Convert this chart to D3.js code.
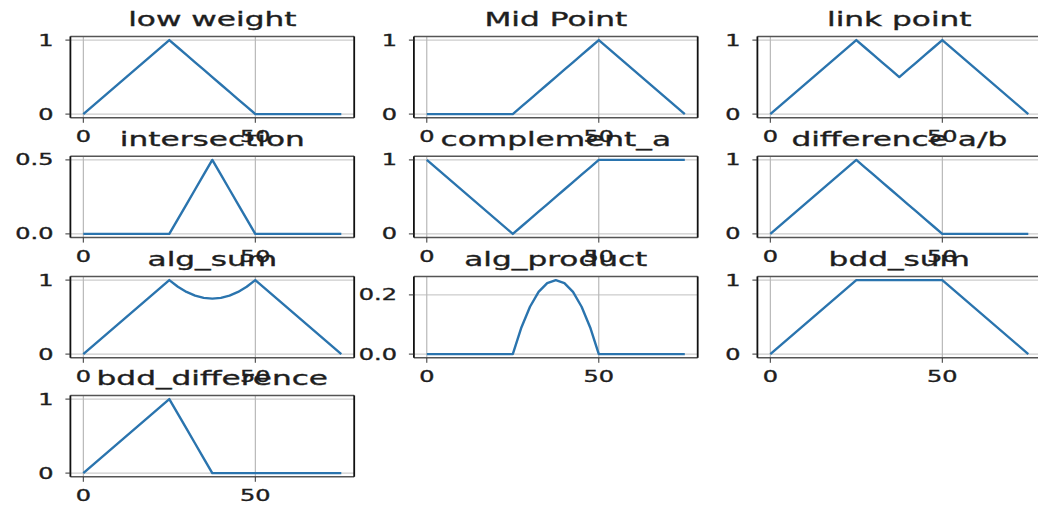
<!DOCTYPE html>
<html>
<head>
<meta charset="utf-8">
<script src="https://cdn.jsdelivr.net/npm/d3@7"></script>
<style>
  html, body { margin: 0; padding: 0; background: #fff; }
  svg { display: block; }
  text { font-family: "DejaVu Sans", sans-serif; fill: #1e1e1e; stroke: #1e1e1e; stroke-width: 0.35px; }
</style>
</head>
<body>
<svg id="chart" width="1038" height="508"></svg>
<script>
// Shared universe of discourse (x samples)
const xs = [0, 25, 27.5, 30, 32.5, 35, 37.5, 40, 42.5, 45, 47.5, 50, 75];

// Membership values at each x sample
const lowWeight     = [0, 1, 0.9, 0.8, 0.7, 0.6, 0.5, 0.4, 0.3, 0.2, 0.1, 0, 0];
const midPoint      = [0, 0, 0.1, 0.2, 0.3, 0.4, 0.5, 0.6, 0.7, 0.8, 0.9, 1, 0];
const linkPoint     = [0, 1, 0.9, 0.8, 0.7, 0.6, 0.5, 0.6, 0.7, 0.8, 0.9, 1, 0];
const intersection  = [0, 0, 0.1, 0.2, 0.3, 0.4, 0.5, 0.4, 0.3, 0.2, 0.1, 0, 0];
const complementA   = [1, 0, 0.1, 0.2, 0.3, 0.4, 0.5, 0.6, 0.7, 0.8, 0.9, 1, 1];
const differenceAB  = [0, 1, 0.9, 0.8, 0.7, 0.6, 0.5, 0.4, 0.3, 0.2, 0.1, 0, 0];
const algSum        = [0, 1, 0.91, 0.84, 0.79, 0.76, 0.75, 0.76, 0.79, 0.84, 0.91, 1, 0];
const algProduct    = [0, 0, 0.09, 0.16, 0.21, 0.24, 0.25, 0.24, 0.21, 0.16, 0.09, 0, 0];
const bddSum        = [0, 1, 1, 1, 1, 1, 1, 1, 1, 1, 1, 1, 0];
const bddDifference = [0, 1, 0.8, 0.6, 0.4, 0.2, 0, 0, 0, 0, 0, 0, 0];

// Panel titles and tick labels
const titles = ["low weight", "Mid Point", "link point", "intersection", "complement_a",
                "difference a/b", "alg_sum", "alg_product", "bdd_sum", "bdd_difference"];
const seriesList = [lowWeight, midPoint, linkPoint, intersection, complementA,
                    differenceAB, algSum, algProduct, bddSum, bddDifference];
const xTicks = [0, 50];
const yTickSets = [[0, 1], [0, 1], [0, 1], [0, 0.5], [0, 1],
                   [0, 1], [0, 1], [0, 0.2], [0, 1], [0, 1]];
const yTickFormats = ["d", "d", "d", ".1f", "d", "d", "d", ".1f", "d", "d"];

// Layout
const colLeft = [70.4, 413.9, 757.4];
const rowTop = [36.4, 156.2, 276.4, 395.4];
const axW = 283.8, axH = 81.4;
const stretch = 1.6;

const svg = d3.select("#chart");

function label(parent, x, y, str, size, anchor) {
  parent.append("g")
    .attr("transform", `translate(${x},${y})`)
    .append("text")
    .attr("transform", `scale(${stretch},1)`)
    .attr("text-anchor", anchor)
    .style("font-size", size + "px")
    .text(str);
}

function scalesFor(vals) {
  const xMin = d3.min(xs), xMax = d3.max(xs);
  const yMin = d3.min(vals), yMax = d3.max(vals);
  const xPad = (xMax - xMin) * 0.05, yPad = (yMax - yMin) * 0.05;
  return {
    x: d3.scaleLinear().domain([xMin - xPad, xMax + xPad]).range([0, axW]),
    y: d3.scaleLinear().domain([yMin - yPad, yMax + yPad]).range([axH, 0])
  };
}

seriesList.forEach((vals, i) => {
  const col = i % 3, row = Math.floor(i / 3);
  const g = svg.append("g").attr("transform", `translate(${colLeft[col]},${rowTop[row]})`);
  const { x, y } = scalesFor(vals);

  // grid
  g.selectAll(".vg").data(xTicks).enter().append("line")
    .attr("x1", d => x(d)).attr("x2", d => x(d)).attr("y1", 0).attr("y2", axH)
    .attr("stroke", "#a0a0a0").attr("stroke-width", 0.9);
  g.selectAll(".hg").data(yTickSets[i]).enter().append("line")
    .attr("x1", 0).attr("x2", axW).attr("y1", d => y(d)).attr("y2", d => y(d))
    .attr("stroke", "#b8b8b8").attr("stroke-width", 0.9);

  // series line
  const line = d3.line().x((d, k) => x(xs[k])).y(d => y(d));
  g.append("path").datum(vals)
    .attr("d", line)
    .attr("fill", "none")
    .attr("stroke", "#2a74ae")
    .attr("stroke-width", 2.4)
    .attr("stroke-linejoin", "round");

  // spines
  g.append("line").attr("x1", 0).attr("x2", axW).attr("y1", 0).attr("y2", 0)
    .attr("stroke", "#555").attr("stroke-width", 1.5);
  g.append("line").attr("x1", 0).attr("x2", axW).attr("y1", axH).attr("y2", axH)
    .attr("stroke", "#555").attr("stroke-width", 1.5);
  g.append("line").attr("x1", 0).attr("x2", 0).attr("y1", 0).attr("y2", axH)
    .attr("stroke", "#111").attr("stroke-width", 1.8);
  g.append("line").attr("x1", axW).attr("x2", axW).attr("y1", 0).attr("y2", axH)
    .attr("stroke", "#111").attr("stroke-width", 1.8);

  // ticks
  g.selectAll(".xt").data(xTicks).enter().append("line")
    .attr("x1", d => x(d)).attr("x2", d => x(d)).attr("y1", axH).attr("y2", axH + 5)
    .attr("stroke", "#333").attr("stroke-width", 1);
  g.selectAll(".yt").data(yTickSets[i]).enter().append("line")
    .attr("x1", -5).attr("x2", 0).attr("y1", d => y(d)).attr("y2", d => y(d))
    .attr("stroke", "#333").attr("stroke-width", 1);
});

// labels drawn per panel in order so later titles sit above earlier tick labels
seriesList.forEach((vals, i) => {
  const col = i % 3, row = Math.floor(i / 3);
  const g = svg.append("g").attr("transform", `translate(${colLeft[col]},${rowTop[row]})`);
  const { x, y } = scalesFor(vals);
  const fmt = d3.format(yTickFormats[i]);

  xTicks.forEach(t => label(g, x(t), axH + 24, String(t), 15, "middle"));
  yTickSets[i].forEach(t => label(g, -17, y(t) + 5.5, fmt(t), 15, "end"));
  label(g, axW / 2, -10.5, titles[i], 19.5, "middle");
});
</script>
</body>
</html>
